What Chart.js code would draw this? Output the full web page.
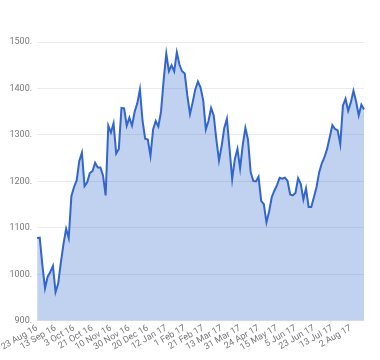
<!DOCTYPE html>
<html>
<head>
<meta charset="utf-8">
<script src="https://cdn.jsdelivr.net/npm/chart.js@4/dist/chart.umd.min.js"></script>
<style>
html,body{margin:0;padding:0;background:#fff;}
#wrap{width:380px;height:360px;position:relative;}
</style>
</head>
<body>
<div id="wrap"><canvas id="c"></canvas></div>
<script>
const tickLabels = ["23 Aug 16","13 Sep 16","3 Oct 16","21 Oct 16","10 Nov 16","30 Nov 16","20 Dec 16","12 Jan 17","1 Feb 17","21 Feb 17","13 Mar 17","31 Mar 17","24 Apr 17","15 May 17","5 Jun 17","23 Jun 17","13 Jul 17","2 Aug 17"];
const pointsPerTick = 7;
const values = [
1078,1079,1020,970,995,1005,1018,962,980,1025,
1065,1098,1078,1168,1188,1202,1244,1262,1190,1198,
1218,1222,1240,1230,1230,1213,1170,1320,1305,1325,
1260,1270,1358,1357,1320,1337,1320,1350,1368,1398,
1330,1292,1290,1255,1312,1330,1318,1350,1418,1475,
1437,1450,1437,1478,1451,1437,1432,1384,1345,1370,
1398,1415,1402,1375,1312,1330,1358,1342,1290,1245,
1276,1315,1335,1270,1205,1248,1270,1228,1278,1315,
1290,1220,1201,1200,1210,1158,1151,1112,1135,1166,
1180,1192,1208,1206,1208,1201,1172,1170,1175,1207,
1195,1161,1185,1145,1145,1166,1188,1220,1239,1252,
1270,1295,1321,1313,1310,1280,1363,1378,1352,1370,
1395,1372,1342,1365,1355
];
const yTicks = [900,1000,1100,1200,1300,1400,1500];

const labels = values.map((v,i) => (i % pointsPerTick === 0 && tickLabels[i/pointsPerTick]) ? tickLabels[i/pointsPerTick] : '');

new Chart(document.getElementById('c'), {
  type: 'line',
  data: {
    labels: labels,
    datasets: [{
      data: values,
      borderColor: '#3366cc',
      borderWidth: 2,
      backgroundColor: 'rgba(51,102,204,0.3)',
      fill: 'start',
      pointRadius: 0,
      tension: 0
    }]
  },
  options: {
    responsive: true,
    maintainAspectRatio: false,
    animation: false,
    layout: { padding: { top: 42, right: 16, left: 1, bottom: 5 } },
    plugins: { legend: { display: false }, tooltip: { enabled: false } },
    scales: {
      x: {
        grid: { display: false, drawTicks: false },
        border: { display: false },
        ticks: {
          autoSkip: false,
          minRotation: 30,
          maxRotation: 30,
          padding: 2,
          color: '#777',
          font: { family: 'Roboto', size: 9 },
          callback: function(v, i) { return labels[i]; }
        }
      },
      y: {
        min: yTicks[0],
        max: yTicks[yTicks.length-1],
        afterBuildTicks: (axis) => { axis.ticks = yTicks.map(v => ({ value: v })); },
        grid: { color: '#ebebeb', drawTicks: false },
        border: { display: false },
        ticks: {
          padding: 5,
          color: '#777',
          font: { family: 'Roboto', size: 9 },
          callback: v => v + '.'
        }
      }
    }
  }
});
</script>
</body>
</html>
